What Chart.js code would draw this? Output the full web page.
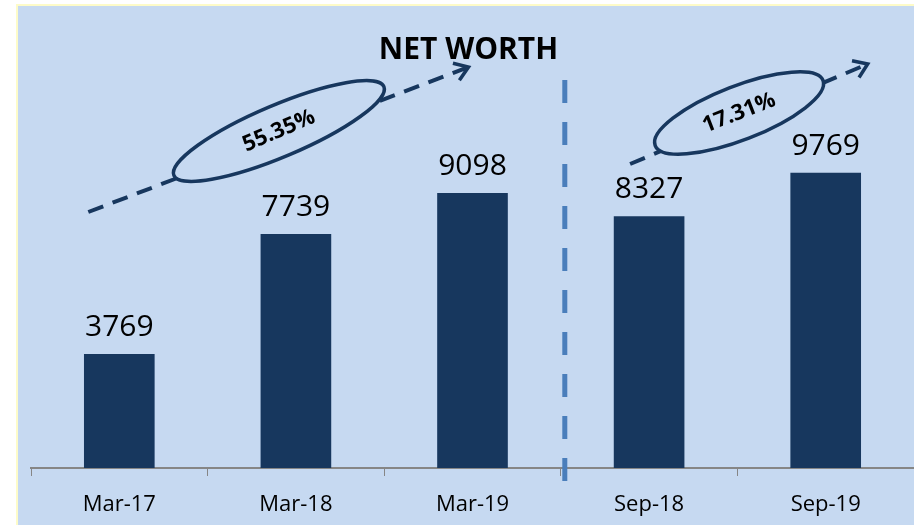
<!DOCTYPE html>
<html>
<head>
<meta charset="utf-8">
<script src="https://cdn.jsdelivr.net/npm/chart.js@4"></script>
<style>
  html, body { margin: 0; padding: 0; background: #fff; }
  #wrap { position: relative; width: 914px; height: 525px; }
</style>
</head>
<body>
<div id="wrap"><canvas id="myChart" width="914" height="525"></canvas></div>
<script>
// chart data
const categories = ['Mar-17', 'Mar-18', 'Mar-19', 'Sep-18', 'Sep-19'];
const netWorth = [3769, 7739, 9098, 8327, 9769];
const growthLabels = ['55.35%', '17.31%'];
const chartTitle = 'NET WORTH';

const navy = '#17375e';
const panel = '#c6d9f1';

// panel background, title, value labels, arrows and the divider
const decorations = {
  id: 'decorations',
  beforeDraw(chart) {
    const ctx = chart.ctx;
    ctx.save();
    ctx.fillStyle = panel;
    ctx.fillRect(17, 5, chart.width - 17, chart.height - 5);
    ctx.strokeStyle = '#fdfbc8';
    ctx.lineWidth = 2;
    ctx.beginPath();
    ctx.moveTo(17, chart.height);
    ctx.lineTo(17, 5);
    ctx.lineTo(chart.width, 5);
    ctx.stroke();
    ctx.restore();
  },
  afterDraw(chart) {
    const ctx = chart.ctx;
    const xs = chart.scales.x;
    const area = chart.chartArea;
    const meta = chart.getDatasetMeta(0);

    ctx.save();
    // value labels
    ctx.fillStyle = '#000';
    ctx.font = '30px "Open Sans"';
    ctx.textAlign = 'center';
    ctx.textBaseline = 'alphabetic';
    meta.data.forEach((bar, i) => {
      ctx.fillText(String(netWorth[i]), bar.x, bar.y - 18);
    });

    // title
    ctx.font = 'bold 30px "Open Sans"';
    ctx.textBaseline = 'middle';
    ctx.fillText(chartTitle, (area.left + area.right) / 2 - 4, 50);

    // divider between Mar-19 and Sep-18
    const divX = (xs.getPixelForValue(2) + xs.getPixelForValue(3)) / 2 + 4;
    ctx.strokeStyle = '#4a7ebb';
    ctx.lineWidth = 5;
    ctx.setLineDash([23, 19]);
    ctx.beginPath();
    ctx.moveTo(divX, 80);
    ctx.lineTo(divX, area.bottom + 14);
    ctx.stroke();

    // growth arrows with ellipses
    const arrows = [
      { x0: xs.getPixelForValue(0) - 31, y0: 212, x1: xs.getPixelForValue(2) - 4, y1: 67,
        cx: xs.getPixelForValue(1) - 17, cy: 131, rx: 114, ry: 26, rot: -0.40, label: growthLabels[0] },
      { x0: xs.getPixelForValue(3) - 19, y0: 164, x1: xs.getPixelForValue(4) + 42, y1: 64,
        cx: xs.getPixelForValue(3) + 90, cy: 113, rx: 90, ry: 27, rot: -0.37, label: growthLabels[1] }
    ];
    arrows.forEach(a => {
      ctx.strokeStyle = navy;
      ctx.lineWidth = 4;
      ctx.setLineDash([16, 10]);
      ctx.beginPath();
      ctx.moveTo(a.x0, a.y0);
      ctx.lineTo(a.x1, a.y1);
      ctx.stroke();
      // arrow head
      const ang = Math.atan2(a.y1 - a.y0, a.x1 - a.x0);
      ctx.setLineDash([]);
      ctx.lineWidth = 3.5;
      ctx.beginPath();
      ctx.moveTo(a.x1 - 16 * Math.cos(ang - 0.6), a.y1 - 16 * Math.sin(ang - 0.6));
      ctx.lineTo(a.x1, a.y1);
      ctx.lineTo(a.x1 - 16 * Math.cos(ang + 0.6), a.y1 - 16 * Math.sin(ang + 0.6));
      ctx.stroke();
      // ellipse
      ctx.beginPath();
      ctx.ellipse(a.cx, a.cy, a.rx, a.ry, a.rot, 0, Math.PI * 2);
      ctx.fillStyle = panel;
      ctx.fill();
      ctx.lineWidth = 3.5;
      ctx.stroke();
      // label
      ctx.save();
      ctx.translate(a.cx, a.cy);
      ctx.rotate(a.rot);
      ctx.fillStyle = '#000';
      ctx.font = 'bold 22px "Open Sans"';
      ctx.textAlign = 'center';
      ctx.textBaseline = 'middle';
      ctx.fillText(a.label, 0, 0);
      ctx.restore();
    });
    ctx.restore();
  }
};

const ctx = document.getElementById('myChart').getContext('2d');
new Chart(ctx, {
  type: 'bar',
  data: {
    labels: categories,
    datasets: [{
      data: netWorth,
      backgroundColor: navy,
      categoryPercentage: 0.4,
      barPercentage: 1
    }]
  },
  options: {
    responsive: false,
    animation: false,
    layout: { padding: { left: 31, right: 0, top: 69, bottom: 0 } },
    plugins: {
      legend: { display: false },
      tooltip: { enabled: false }
    },
    scales: {
      y: { display: false, min: 0, max: 13200 },
      x: {
        afterFit(scale) { scale.height = 57; },
        grid: {
          offset: true,
          drawOnChartArea: false,
          color: '#868686',
          tickLength: 8
        },
        border: { color: '#868686', width: 2 },
        ticks: {
          color: '#000',
          padding: 16,
          font: { family: '"Open Sans"', size: 22 }
        }
      }
    }
  },
  plugins: [decorations]
});
</script>
</body>
</html>
